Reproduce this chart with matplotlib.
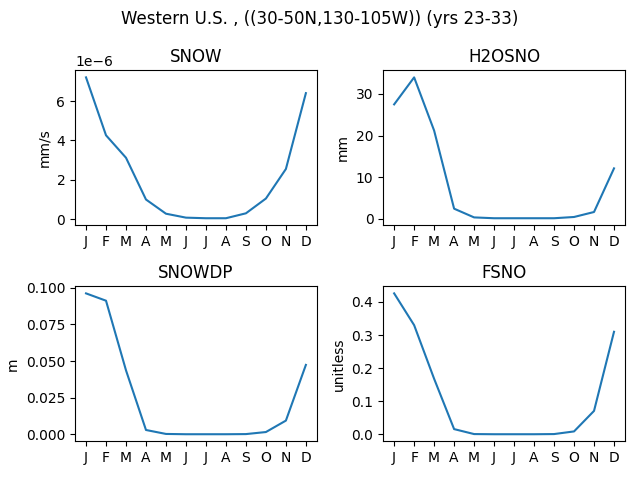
import matplotlib
matplotlib.use('Agg')
import matplotlib.pyplot as plt

# Monthly climatology, Western U.S.
months = ['J', 'F', 'M', 'A', 'M', 'J', 'J', 'A', 'S', 'O', 'N', 'D']

snow = [7.2e-6, 4.26e-6, 3.12e-6, 1.0e-6, 0.28e-6, 0.08e-6,
        0.05e-6, 0.05e-6, 0.3e-6, 1.05e-6, 2.55e-6, 6.4e-6]
h2osno = [27.5, 34.0, 21.2, 2.4, 0.3, 0.1, 0.1, 0.1, 0.1, 0.4, 1.6, 12.1]
snowdp = [0.0962, 0.0912, 0.0437, 0.0030, 0.0003, 0.0001,
          0.0001, 0.0001, 0.0002, 0.0016, 0.0094, 0.0474]
fsno = [0.426, 0.330, 0.168, 0.016, 0.001, 0.0005,
        0.0005, 0.0005, 0.001, 0.009, 0.071, 0.310]

panels = [
    ('SNOW', snow, 'mm/s'),
    ('H2OSNO', h2osno, 'mm'),
    ('SNOWDP', snowdp, 'm'),
    ('FSNO', fsno, 'unitless'),
]

fig, axes = plt.subplots(2, 2, figsize=(6.4, 4.8), dpi=100)
for ax, (name, vals, units) in zip(axes.flat, panels):
    ax.plot(range(12), vals)
    ax.set_title(name)
    ax.set_ylabel(units)
    ax.set_xticks(range(12))
    ax.set_xticklabels(months)

fig.suptitle('Western U.S. , ((30-50N,130-105W)) (yrs 23-33)')
plt.tight_layout()
fig.savefig('out.png')
